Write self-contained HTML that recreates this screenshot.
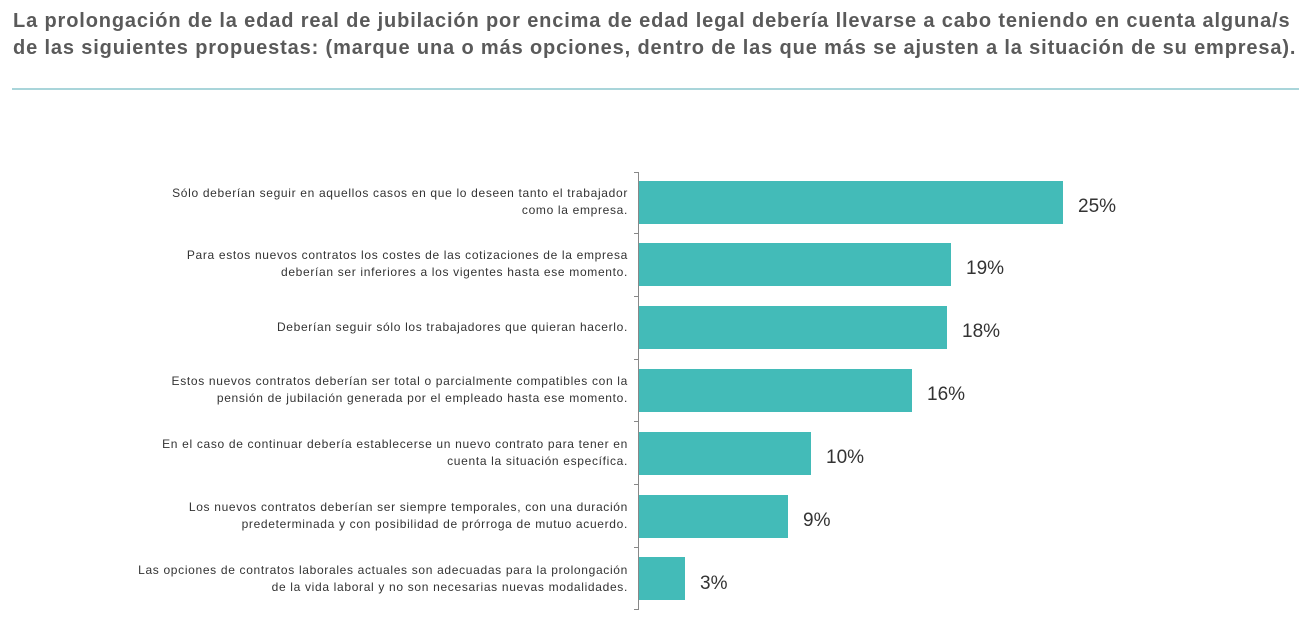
<!DOCTYPE html>
<html><head><meta charset="utf-8"><style>
body{margin:0;width:1309px;height:622px;background:#fff;position:relative;overflow:hidden;font-family:"Liberation Sans",sans-serif}
.t{position:absolute;left:13px;top:8px;font-size:20px;font-weight:bold;line-height:27px;color:#5a5a5a;letter-spacing:0.86px;white-space:nowrap}
.hr{position:absolute;left:12px;top:88px;width:1287px;height:2px;background:#a9d5da}
.ax{position:absolute;left:638px;top:172px;width:1px;height:437px;background:#888}
.tk{position:absolute;left:634px;width:5px;height:1px;background:#888}
.b{position:absolute;left:639px;height:43px;background:#43bbb8}
.l{position:absolute;right:681px;width:600px;text-align:right;font-size:12px;letter-spacing:0.67px;line-height:17px;color:#333;white-space:nowrap}
.v{position:absolute;font-size:19px;color:#333}
</style></head><body>
<div class="t">La prolongación de la edad real de jubilación por encima de edad legal debería llevarse a cabo teniendo en cuenta alguna/s<br>de las siguientes propuestas: (marque una o más opciones, dentro de las que más se ajusten a la situación de su empresa).</div>
<div class="hr"></div>
<div class="ax"></div>
<div class="tk" style="top:172px"></div><div class="tk" style="top:233px"></div><div class="tk" style="top:296px"></div><div class="tk" style="top:359px"></div><div class="tk" style="top:421px"></div><div class="tk" style="top:484px"></div><div class="tk" style="top:547px"></div><div class="tk" style="top:609px"></div>

<div class="b" style="top:181px;width:424px"></div><div class="v" style="left:1078px;top:196px">25%</div>
<div class="b" style="top:243px;width:312px"></div><div class="v" style="left:966px;top:258px">19%</div>
<div class="b" style="top:306px;width:308px"></div><div class="v" style="left:962px;top:321px">18%</div>
<div class="b" style="top:369px;width:273px"></div><div class="v" style="left:927px;top:384px">16%</div>
<div class="b" style="top:432px;width:172px"></div><div class="v" style="left:826px;top:447px">10%</div>
<div class="b" style="top:495px;width:149px"></div><div class="v" style="left:803px;top:510px">9%</div>
<div class="b" style="top:557px;width:46px"></div><div class="v" style="left:700px;top:573px">3%</div>

<div class="l" style="top:185px">Sólo deberían seguir en aquellos casos en que lo deseen tanto el trabajador<br>como la empresa.</div>
<div class="l" style="top:247px">Para estos nuevos contratos los costes de las cotizaciones de la empresa<br>deberían ser inferiores a los vigentes hasta ese momento.</div>
<div class="l" style="top:319px">Deberían seguir sólo los trabajadores que quieran hacerlo.</div>
<div class="l" style="top:373px">Estos nuevos contratos deberían ser total o parcialmente compatibles con la<br>pensión de jubilación generada por el empleado hasta ese momento.</div>
<div class="l" style="top:436px">En el caso de continuar debería establecerse un nuevo contrato para tener en<br>cuenta la situación específica.</div>
<div class="l" style="top:499px">Los nuevos contratos deberían ser siempre temporales, con una duración<br>predeterminada y con posibilidad de prórroga de mutuo acuerdo.</div>
<div class="l" style="top:562px">Las opciones de contratos laborales actuales son adecuadas para la prolongación<br>de la vida laboral y no son necesarias nuevas modalidades.</div>
</body></html>
